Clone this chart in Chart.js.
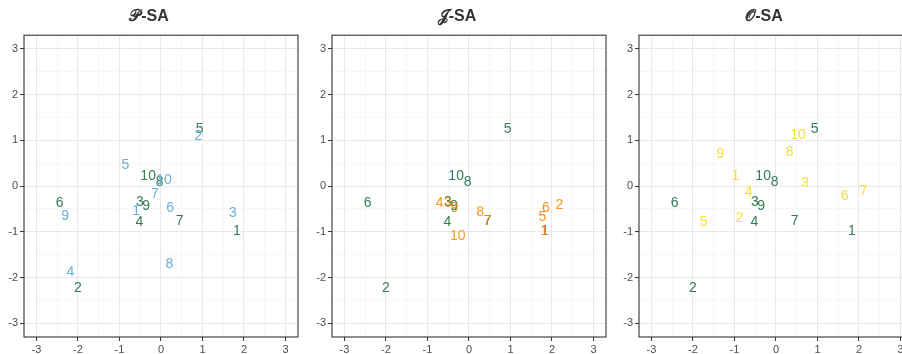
<!DOCTYPE html>
<html>
<head>
<meta charset="utf-8">
<script src="https://cdn.jsdelivr.net/npm/chart.js@4"></script>
<style>
  html, body { margin: 0; padding: 0; background: #fff; }
  body { width: 902px; height: 354px; overflow: hidden; position: relative; }
  .panel { position: absolute; top: 0; width: 300px; height: 370px; }
</style>
</head>
<body>
<div class="panel" style="left:0px"><canvas id="c1"></canvas></div>
<div class="panel" style="left:308px"><canvas id="c2"></canvas></div>
<div class="panel" style="left:615px"><canvas id="c3"></canvas></div>
<script>
// point ids (drawn as the text labels)
const ids = ['1', '2', '3', '4', '5', '6', '7', '8', '9', '10'];

// reference series (dark green), same in every panel
const baseX = [1.83, -2.0, -0.51, -0.52, 0.93, -2.44, 0.45, -0.03, -0.36, -0.31];
const baseY = [-0.96, -2.2, -0.32, -0.76, 1.27, -0.34, -0.74, 0.10, -0.41, 0.25];

// P-SA (light blue)
const pX = [-0.60, 0.90, 1.73, -2.18, -0.86, 0.22, -0.15, 0.20, -2.31, 0.07];
const pY = [-0.52, 1.12, -0.58, -1.87, 0.47, -0.45, -0.15, -1.69, -0.63, 0.16];

// J-SA (orange)
const jX = [1.81, 2.18, -0.51, -0.71, 1.77, 1.85, 0.44, 0.27, -0.35, -0.27];
const jY = [-0.96, -0.39, -0.34, -0.34, -0.65, -0.46, -0.74, -0.55, -0.45, -1.07];

// O-SA (yellow)
const oX = [-0.98, -0.88, 0.70, -0.66, -1.74, 1.66, 2.11, 0.33, -1.34, 0.53];
const oY = [0.23, -0.68, 0.09, -0.10, -0.76, -0.19, -0.08, 0.77, 0.71, 1.14];

const tickVals = [-3, -2.5, -2, -1.5, -1, -0.5, 0, 0.5, 1, 1.5, 2, 2.5, 3];

const green = 'rgba(30,110,65,0.9)';

function pts(xs, ys) {
  return xs.map((x, i) => ({ x: x, y: ys[i], label: ids[i] }));
}

// draws the numbers at each point through the scales
const textLabels = {
  id: 'textLabels',
  afterDatasetsDraw(chart) {
    const ctx = chart.ctx;
    const xs = chart.scales.x, ys = chart.scales.y;
    ctx.save();
    ctx.font = '14px "Liberation Sans", Arial, sans-serif';
    ctx.textAlign = 'center';
    ctx.textBaseline = 'middle';
    chart.data.datasets.forEach(ds => {
      ctx.fillStyle = ds.textColor;
      ds.data.forEach(p => {
        ctx.fillText(p.label, xs.getPixelForValue(p.x), ys.getPixelForValue(p.y) + 1);
      });
    });
    ctx.restore();
  }
};

const panelBorder = {
  id: 'panelBorder',
  afterDraw(chart) {
    const a = chart.chartArea, ctx = chart.ctx;
    ctx.save();
    ctx.strokeStyle = '#333333';
    ctx.lineWidth = 1.1;
    ctx.strokeRect(a.left, a.top, a.right - a.left, a.bottom - a.top);
    ctx.restore();
  }
};

function isMajor(v) { return Math.abs(v - Math.round(v)) < 1e-9; }

function axis(pos) {
  return {
    type: 'linear',
    position: pos,
    min: -3.3,
    max: 3.3,
    afterBuildTicks: (s) => { s.ticks = tickVals.map(v => ({ value: v })); },
    afterFit: (s) => {
      if (pos === 'left') s.width = 24;
      else s.height = 33;
    },
    border: { display: false },
    grid: {
      color: (c) => isMajor(c.tick.value) ? '#e8e8e8' : '#f2f2f2',
      lineWidth: (c) => isMajor(c.tick.value) ? 1.1 : 0.6,
      tickColor: (c) => isMajor(c.tick.value) ? '#333333' : 'rgba(0,0,0,0)',
      tickLength: 4,
      tickWidth: 1
    },
    ticks: {
      autoSkip: false,
      padding: 2,
      color: '#4d4d4d',
      font: { family: '"Liberation Sans", Arial, sans-serif', size: 11 },
      callback: (v) => isMajor(v) ? String(Math.round(v)) : ''
    }
  };
}

function makePanel(id, title, xs, ys, color) {
  new Chart(document.getElementById(id), {
    type: 'scatter',
    data: {
      datasets: [
        { data: pts(baseX, baseY), textColor: green, pointRadius: 0 },
        { data: pts(xs, ys), textColor: color, pointRadius: 0 }
      ]
    },
    options: {
      responsive: true,
      maintainAspectRatio: false,
      animation: false,
      layout: { padding: { left: 0, right: 2, top: 0, bottom: 0 } },
      plugins: {
        legend: { display: false },
        tooltip: { enabled: false },
        title: {
          display: true,
          text: title,
          color: '#333333',
          font: { family: '"Liberation Sans", Arial, sans-serif', size: 16, weight: 'bold' },
          padding: { top: 7, bottom: 9 }
        }
      },
      scales: { x: axis('bottom'), y: axis('left') }
    },
    plugins: [textLabels, panelBorder]
  });
}

makePanel('c1', '\u{1D4AB}-SA', pX, pY, 'rgba(100,170,215,0.95)');
makePanel('c2', '\u{1D4A5}-SA', jX, jY, 'rgba(255,135,10,0.9)');
makePanel('c3', '\u{1D4AA}-SA', oX, oY, 'rgba(245,225,60,1)');
</script>
</body>
</html>
